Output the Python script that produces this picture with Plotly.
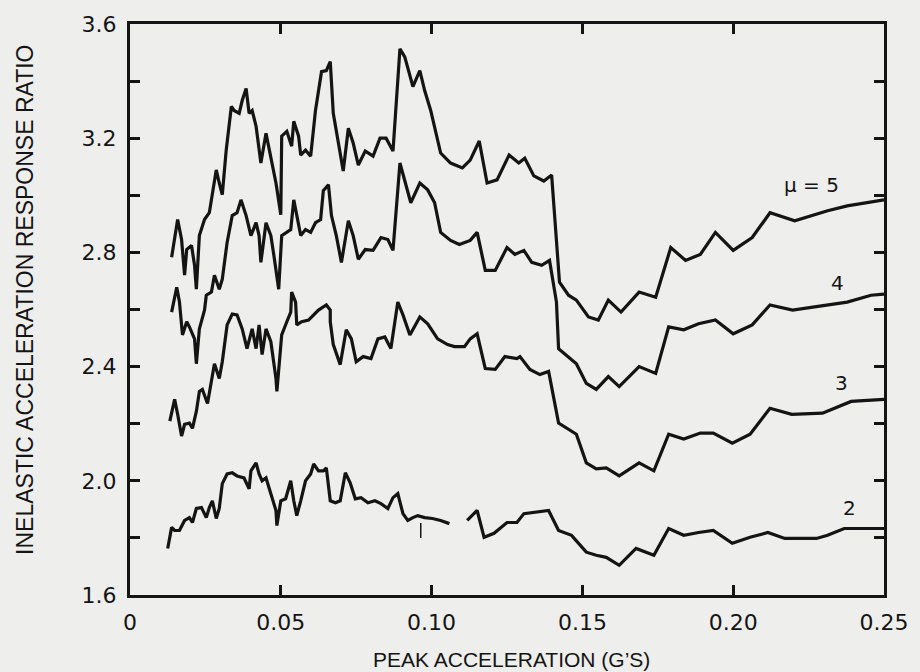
import plotly.graph_objects as go

# mu = 5
x5 = [0.0138,0.0158,0.0171,0.0181,0.0188,0.0204,0.0214,0.0220,0.0230,0.0247,0.0263,0.0273,0.0286,0.0296,0.0306,0.0319,0.0336,0.0345,0.0362,0.0372,0.0385,0.0395,0.0405,0.0418,0.0434,0.0451,0.0467,0.0484,0.0500,0.0503,0.0520,0.0536,0.0543,0.0559,0.0566,0.0582,0.0599,0.0615,0.0635,0.0651,0.0664,0.0674,0.0691,0.0707,0.0724,0.0740,0.0757,0.0780,0.0806,0.0829,0.0849,0.0872,0.0895,0.0911,0.0938,0.0961,0.0977,0.0997,0.1030,0.1063,0.1102,0.1128,0.1158,0.1184,0.1217,0.1257,0.1289,0.1309,0.1339,0.1372,0.1398,0.1424,0.1454,0.1480,0.1520,0.1553,0.1586,0.1628,0.1688,0.1743,0.1793,0.1842,0.1891,0.1941,0.2000,0.2063,0.2122,0.2204,0.2313,0.2378,0.2500]
y5 = [2.783,2.915,2.845,2.720,2.810,2.824,2.755,2.671,2.859,2.915,2.939,2.998,3.089,3.043,3.002,3.158,3.311,3.297,3.287,3.332,3.374,3.287,3.297,3.242,3.113,3.217,3.137,3.043,2.932,3.207,3.224,3.172,3.259,3.207,3.141,3.158,3.137,3.297,3.433,3.437,3.468,3.287,3.183,3.085,3.235,3.183,3.106,3.155,3.137,3.200,3.200,3.155,3.513,3.485,3.381,3.437,3.367,3.297,3.148,3.113,3.096,3.123,3.190,3.043,3.054,3.141,3.113,3.130,3.068,3.050,3.071,2.696,2.650,2.633,2.574,2.563,2.633,2.591,2.661,2.643,2.817,2.772,2.793,2.870,2.807,2.852,2.939,2.911,2.946,2.963,2.984]

# mu = 4
x4 = [0.0138,0.0155,0.0164,0.0174,0.0188,0.0197,0.0214,0.0220,0.0230,0.0247,0.0253,0.0270,0.0280,0.0296,0.0306,0.0322,0.0339,0.0355,0.0368,0.0385,0.0401,0.0418,0.0428,0.0434,0.0451,0.0467,0.0477,0.0493,0.0503,0.0520,0.0533,0.0543,0.0553,0.0566,0.0582,0.0599,0.0615,0.0632,0.0641,0.0658,0.0668,0.0684,0.0701,0.0724,0.0740,0.0757,0.0780,0.0806,0.0832,0.0855,0.0872,0.0895,0.0931,0.0961,0.0987,0.1010,0.1030,0.1063,0.1092,0.1128,0.1151,0.1178,0.1211,0.1250,0.1276,0.1306,0.1332,0.1365,0.1391,0.1414,0.1421,0.1480,0.1513,0.1546,0.1586,0.1622,0.1688,0.1743,0.1786,0.1836,0.1885,0.1941,0.2000,0.2063,0.2122,0.2197,0.2270,0.2378,0.2457,0.2500]
y4 = [2.591,2.678,2.626,2.511,2.557,2.539,2.497,2.410,2.532,2.598,2.650,2.661,2.720,2.671,2.706,2.835,2.929,2.939,2.984,2.929,2.859,2.904,2.859,2.765,2.904,2.859,2.790,2.671,2.859,2.870,2.880,2.984,2.929,2.859,2.880,2.870,2.904,2.915,3.016,3.037,2.929,2.859,2.765,2.911,2.859,2.776,2.810,2.807,2.852,2.845,2.807,3.113,2.974,3.043,3.019,2.974,2.870,2.842,2.828,2.842,2.870,2.737,2.737,2.817,2.793,2.807,2.765,2.755,2.772,2.626,2.463,2.410,2.341,2.320,2.365,2.330,2.400,2.376,2.539,2.529,2.550,2.563,2.515,2.546,2.616,2.598,2.609,2.626,2.650,2.654]

# mu = 3
x3 = [0.0132,0.0148,0.0158,0.0171,0.0181,0.0197,0.0207,0.0220,0.0230,0.0240,0.0257,0.0270,0.0280,0.0296,0.0306,0.0322,0.0339,0.0355,0.0372,0.0388,0.0405,0.0418,0.0428,0.0438,0.0451,0.0467,0.0484,0.0487,0.0503,0.0520,0.0533,0.0536,0.0549,0.0553,0.0569,0.0592,0.0609,0.0625,0.0651,0.0664,0.0664,0.0674,0.0697,0.0717,0.0734,0.0750,0.0773,0.0799,0.0822,0.0845,0.0865,0.0888,0.0905,0.0928,0.0961,0.0987,0.1020,0.1053,0.1076,0.1109,0.1128,0.1151,0.1178,0.1211,0.1243,0.1283,0.1293,0.1326,0.1359,0.1388,0.1421,0.1480,0.1513,0.1546,0.1579,0.1622,0.1688,0.1737,0.1786,0.1836,0.1891,0.1934,0.1997,0.2056,0.2122,0.2194,0.2296,0.2391,0.2500]
y3 = [2.209,2.285,2.233,2.157,2.198,2.202,2.184,2.243,2.313,2.320,2.271,2.358,2.410,2.358,2.417,2.546,2.584,2.581,2.532,2.463,2.532,2.463,2.546,2.442,2.532,2.487,2.358,2.313,2.511,2.557,2.591,2.661,2.626,2.546,2.557,2.563,2.581,2.598,2.616,2.598,2.557,2.477,2.407,2.529,2.497,2.417,2.435,2.428,2.497,2.504,2.463,2.626,2.581,2.511,2.574,2.550,2.497,2.477,2.470,2.470,2.497,2.515,2.393,2.390,2.435,2.428,2.435,2.390,2.372,2.383,2.202,2.163,2.063,2.042,2.045,2.017,2.063,2.035,2.163,2.146,2.167,2.167,2.132,2.163,2.254,2.233,2.237,2.278,2.285]

# mu = 2 (None marks the gap in the trace)
x2 = [0.0125,0.0138,0.0148,0.0164,0.0181,0.0197,0.0207,0.0220,0.0237,0.0253,0.0263,0.0273,0.0286,0.0296,0.0306,0.0322,0.0339,0.0355,0.0378,0.0395,0.0401,0.0418,0.0428,0.0438,0.0451,0.0467,0.0484,0.0487,0.0500,0.0516,0.0533,0.0543,0.0553,0.0566,0.0582,0.0599,0.0609,0.0625,0.0641,0.0651,0.0664,0.0681,0.0697,0.0714,0.0730,0.0747,0.0766,0.0789,0.0812,0.0832,0.0855,0.0872,0.0888,0.0905,0.0921,0.0938,0.0954,0.0977,0.1003,0.1030,0.1059,None,0.1118,0.1151,0.1174,0.1207,0.1250,0.1283,0.1306,0.1342,0.1388,0.1421,0.1464,0.1513,0.1546,0.1579,0.1622,0.1678,0.1737,0.1786,0.1836,0.1885,0.1934,0.1997,0.2056,0.2115,0.2171,0.2227,0.2276,0.2313,0.2368,0.2424,0.2500]
y2 = [1.763,1.837,1.826,1.826,1.861,1.871,1.854,1.903,1.906,1.871,1.906,1.930,1.868,1.903,1.990,2.024,2.028,2.017,2.010,1.972,2.035,2.063,2.024,2.000,2.010,1.955,1.896,1.843,1.930,1.937,2.000,1.930,1.878,1.930,2.000,2.024,2.059,2.035,2.035,2.045,1.930,1.923,1.930,2.028,1.993,1.937,1.941,1.923,1.930,1.920,1.903,1.941,1.955,1.885,1.861,1.871,1.878,1.871,1.868,1.861,1.850,None,1.861,1.896,1.802,1.816,1.854,1.854,1.885,1.889,1.896,1.826,1.809,1.750,1.739,1.732,1.704,1.763,1.739,1.833,1.809,1.819,1.826,1.781,1.802,1.819,1.798,1.798,1.798,1.809,1.833,1.833,1.833]

# small hand-drawn mark below the mu = 2 curve
mark_x = [0.0964, 0.0964]
mark_y = [1.852, 1.800]

curve_labels = ["\u03bc = 5", "4", "3", "2"]
label_x = [0.226, 0.2345, 0.2359, 0.2385]
label_y = [3.037, 2.692, 2.341, 1.903]

x_ticks = [0, 0.05, 0.10, 0.15, 0.20, 0.25]
x_tick_text = ["0", "0.05", "0.10", "0.15", "0.20", "0.25"]
y_ticks = [1.6, 1.8, 2.0, 2.2, 2.4, 2.6, 2.8, 3.0, 3.2, 3.4, 3.6]
y_tick_text = ["1.6", "", "2.0", "", "2.4", "", "2.8", "", "3.2", "", "3.6"]

INK = "#141414"
BG = "#eeeeec"

fig = go.Figure()
for xs, ys in [(x5, y5), (x4, y4), (x3, y3), (x2, y2)]:
    fig.add_trace(go.Scatter(x=xs, y=ys, mode="lines",
                             line=dict(color=INK, width=3.2),
                             connectgaps=False, showlegend=False,
                             hoverinfo="skip"))
fig.add_trace(go.Scatter(x=mark_x, y=mark_y, mode="lines",
                         line=dict(color=INK, width=1.5),
                         showlegend=False, hoverinfo="skip"))

for t, lx, ly in zip(curve_labels, label_x, label_y):
    fig.add_annotation(x=lx, y=ly, text=t, showarrow=False,
                       font=dict(family="DejaVu Sans", size=20, color=INK),
                       xanchor="center", yanchor="middle")

axis_common = dict(showline=True, linewidth=3, linecolor=INK, mirror="ticks",
                   ticks="inside", ticklen=10, tickwidth=3, tickcolor=INK,
                   showgrid=False, zeroline=False,
                   tickfont=dict(family="DejaVu Sans", size=22, color=INK))

fig.update_xaxes(range=[0, 0.25], tickmode="array", tickvals=x_ticks,
                 ticktext=x_tick_text, ticklabelstandoff=6, **axis_common)
fig.update_yaxes(range=[1.6, 3.6], tickmode="array", tickvals=y_ticks,
                 ticktext=y_tick_text, ticklabelstandoff=6, **axis_common)

fig.add_annotation(xref="paper", yref="paper", x=0.5066, y=-0.113,
                   text="PEAK ACCELERATION (G\u2019S)", showarrow=False,
                   font=dict(family="Liberation Sans", size=21, color=INK),
                   xanchor="center", yanchor="middle")
fig.add_annotation(xref="paper", yref="paper", x=-0.1395, y=0.5165,
                   text="INELASTIC ACCELERATION RESPONSE RATIO", showarrow=False,
                   textangle=-90,
                   font=dict(family="Liberation Sans", size=23, color=INK),
                   xanchor="center", yanchor="middle")

fig.update_layout(width=920, height=672, autosize=False,
                  margin=dict(l=130, r=30, t=20, b=77),
                  paper_bgcolor=BG, plot_bgcolor=BG)

fig.write_html("out.html")
